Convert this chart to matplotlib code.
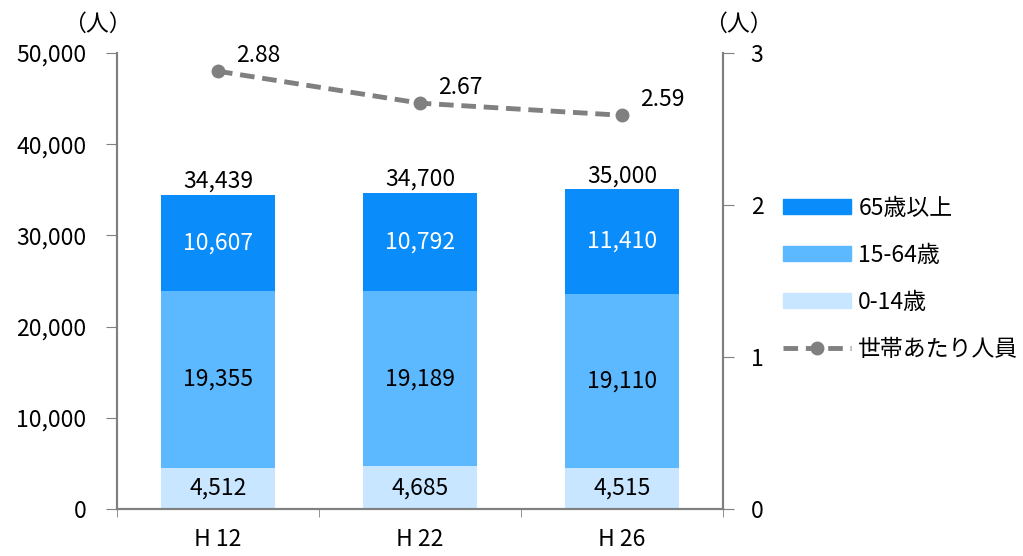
import matplotlib
matplotlib.use("Agg")
import matplotlib.pyplot as plt
from matplotlib.lines import Line2D
from matplotlib.patches import Patch
import numpy as np

plt.rcParams['font.family'] = ['Noto Sans CJK JP', 'DejaVu Sans']

categories = ["H 12", "H 22", "H 26"]
age_0_14 = [4512, 4685, 4515]
age_15_64 = [19355, 19189, 19110]
age_65_plus = [10607, 10792, 11410]
totals = [34439, 34700, 35000]
per_household = [2.88, 2.67, 2.59]

c65 = "#0A8CFA"
c1564 = "#5CB8FF"
c014 = "#C8E6FF"
gray = "#808080"

fig = plt.figure(figsize=(10.23, 5.56), dpi=100)
ax = fig.add_axes([117/1023, 1-509/556, (723-117)/1023, (509-53)/556])
x = np.arange(len(categories))
w = 0.565
b1 = np.array(age_0_14)
b2 = b1 + np.array(age_15_64)
ax.bar(x, age_0_14, w, color=c014)
ax.bar(x, age_15_64, w, bottom=b1, color=c1564)
ax.bar(x, age_65_plus, w, bottom=b2, color=c65)

fs = 16.5
for i in range(len(x)):
    ax.text(x[i], age_0_14[i]/2, f"{age_0_14[i]:,}", ha="center", va="center", fontsize=fs, color="black")
    ax.text(x[i], b1[i] + age_15_64[i]/2, f"{age_15_64[i]:,}", ha="center", va="center", fontsize=fs, color="black")
    ax.text(x[i], b2[i] + age_65_plus[i]/2, f"{age_65_plus[i]:,}", ha="center", va="center", fontsize=fs, color="white")
    ax.text(x[i], totals[i] + 250, f"{totals[i]:,}", ha="center", va="bottom", fontsize=fs, color="black")

ax.set_xlim(-0.5, 2.5)
ax.set_ylim(0, 50000)
ax.set_yticks(range(0, 50001, 10000))
ax.set_yticklabels([f"{v:,}" for v in range(0, 50001, 10000)], fontsize=fs)
ax.set_xticks(x)
ax.set_xticklabels(categories, fontsize=fs)
ax.tick_params(axis="x", length=0, pad=14)
ax.set_xticks([-0.5, 0.5, 1.5, 2.5], minor=True)
ax.tick_params(axis="x", which="minor", length=6, color=gray, direction="out")
ax.tick_params(axis="y", length=8, color=gray, direction="out", pad=14)
ax.spines["top"].set_visible(False)
for s in ["left", "right", "bottom"]:
    ax.spines[s].set_color(gray)
    ax.spines[s].set_linewidth(1.5)

ax2 = ax.twinx()
ax2.plot(x, per_household, color=gray, linestyle=(0, (3, 1.6)), linewidth=3.5,
         marker="o", markersize=9, markerfacecolor=gray, markeredgecolor=gray)
for i in range(len(x)):
    ax2.text(x[i] + 0.09, per_household[i] + 0.03, f"{per_household[i]:.2f}", ha="left", va="bottom", fontsize=fs)
ax2.set_ylim(0, 3)
ax2.set_yticks([0, 1, 2, 3])
ax2.set_yticklabels(["0", "1", "2", "3"], fontsize=fs)
ax2.tick_params(axis="y", length=8, color=gray, direction="out", pad=12)
ax2.spines["top"].set_visible(False)
for s in ["left", "right", "bottom"]:
    ax2.spines[s].set_color(gray)
    ax2.spines[s].set_linewidth(1.5)

fig.text(97/1023, 1-24/556, "（人）", ha="center", va="center", fontsize=fs)
fig.text(738/1023, 1-24/556, "（人）", ha="center", va="center", fontsize=fs)

handles = [Patch(color=c65), Patch(color=c1564), Patch(color=c014),
           Line2D([0], [0], color=gray, linestyle=(0, (3, 1.6)), linewidth=3.5, marker="o",
                  markersize=9, markerfacecolor=gray)]
labels = ["65歳以上", "15-64歳", "0-14歳", "世帯あたり人員"]
fig.legend(handles, labels, loc="upper left", bbox_to_anchor=(762/1023, 1-176/556),
           frameon=False, fontsize=fs, handlelength=3.0, handleheight=0.65,
           labelspacing=1.05, handletextpad=0.3)

fig.savefig("out.png", dpi=100)
